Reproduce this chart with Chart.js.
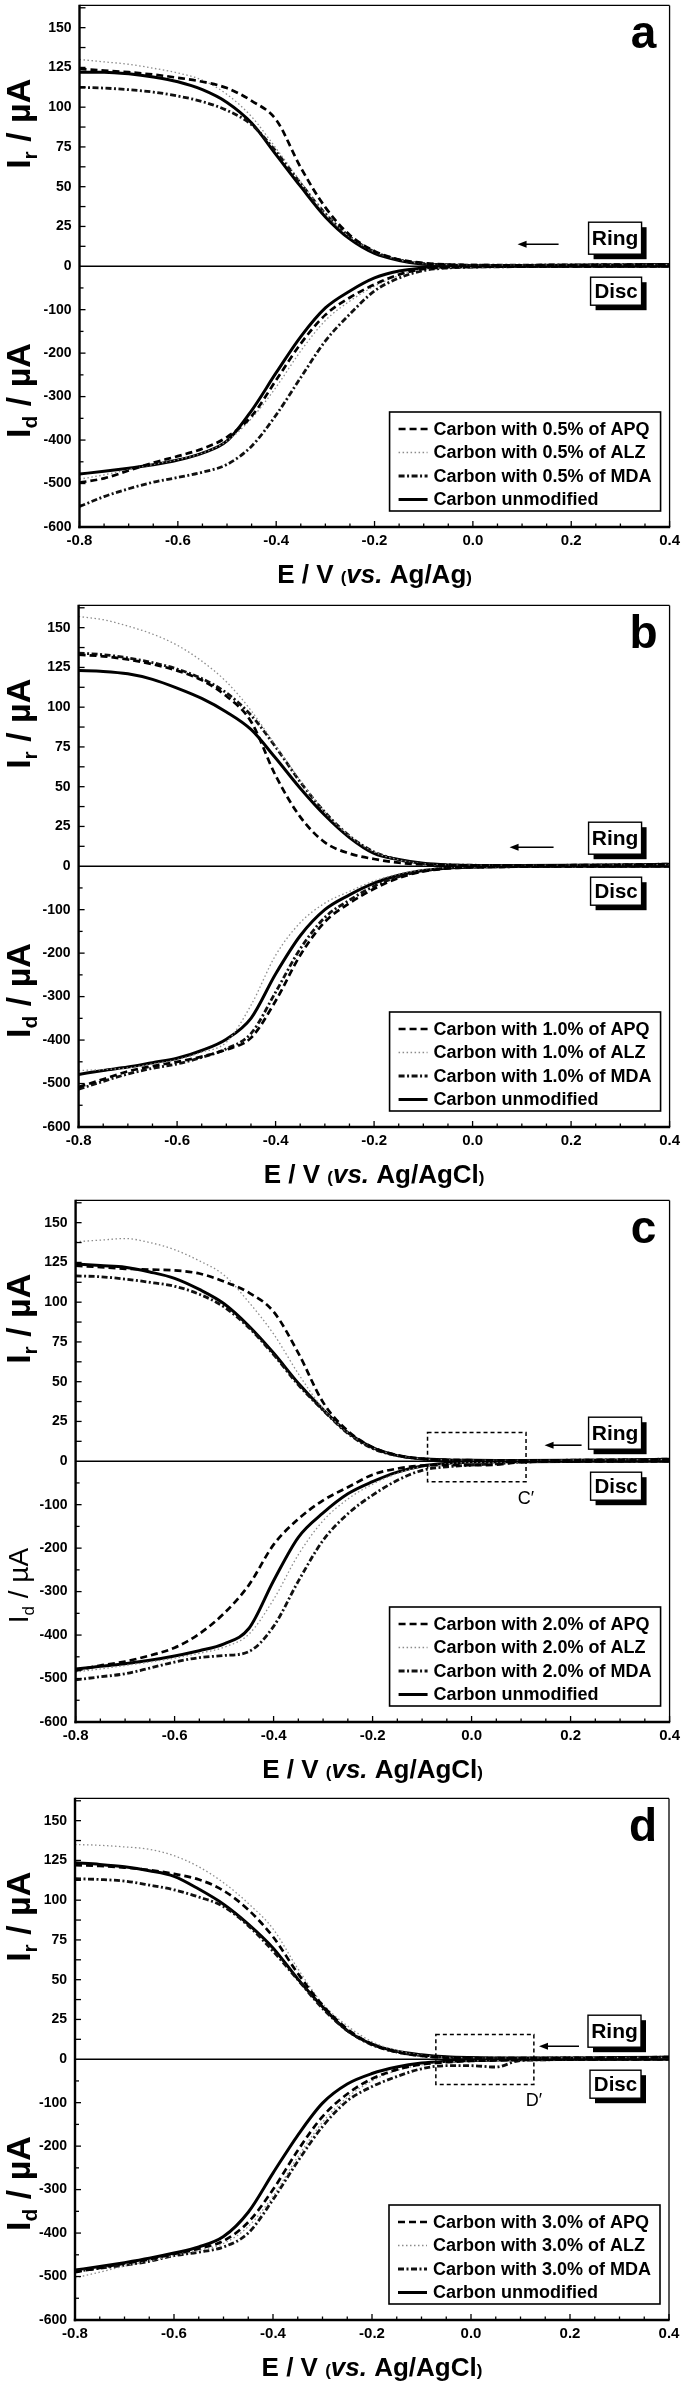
<!DOCTYPE html>
<html>
<head>
<meta charset="utf-8">
<script src="https://cdn.jsdelivr.net/npm/chart.js@4.4.1/dist/chart.umd.min.js"></script>
<style>
  html, body { margin: 0; padding: 0; background: #fff; }
  body { position: relative; width: 685px; height: 2381px; overflow: hidden; }
  .panel { position: absolute; left: 0; width: 685px; height: 600px; }
</style>
</head>
<body>
<div class="panel" id="pa"><canvas id="ca" width="685" height="600"></canvas></div>
<div class="panel" id="pb"><canvas id="cb" width="685" height="600"></canvas></div>
<div class="panel" id="pc"><canvas id="cc" width="685" height="600"></canvas></div>
<div class="panel" id="pd"><canvas id="cd" width="685" height="600"></canvas></div>
<script>
'use strict';

// ---- data ----
var potential = [-0.8, -0.75, -0.7, -0.65, -0.6, -0.55, -0.5, -0.45, -0.4, -0.35, -0.3, -0.25,
                 -0.2, -0.15, -0.1, -0.05, 0, 0.05, 0.1, 0.2, 0.3, 0.4];
var xTickLabels = ['-0.8', '-0.6', '-0.4', '-0.2', '0.0', '0.2', '0.4'];
var ringTickLabels = ['0', '25', '50', '75', '100', '125', '150'];
var discTickLabels = ['-600', '-500', '-400', '-300', '-200', '-100'];
var panelLetters = ['a', 'b', 'c', 'd'];
var loadings = ['0.5%', '1.0%', '2.0%', '3.0%'];
var references = ['Ag/Ag', 'Ag/AgCl', 'Ag/AgCl', 'Ag/AgCl'];
var modifiers = ['APQ', 'ALZ', 'MDA'];

// panel a (0.5 %)
var aRingAPQ   = [124, 123, 122, 120.5, 118.5, 116, 112, 104, 92, 62, 37, 19.5, 9.5, 4.2, 2, 1, 0.7, 0.6, 0.6, 0.7, 0.9, 1.2];
var aRingALZ   = [130, 128.5, 127, 124.5, 121.5, 117, 108, 94, 74, 53, 33, 18.5, 9, 4, 1.6, 0.9, 0.7, 0.6, 0.6, 0.7, 0.8, 1];
var aRingMDA   = [112.5, 112, 111, 109.5, 107, 103.5, 98, 89, 72, 52, 33, 18.5, 9, 4, 1.6, 0.9, 0.7, 0.6, 0.7, 0.8, 1, 1.2];
var aRingUnmod = [122, 122, 121, 119, 116, 111, 103, 90, 70, 50, 31, 17, 8, 3.6, 1.2, 0.6, 0.5, 0.5, 0.5, 0.6, 0.8, 1];
var aDiscAPQ   = [-498, -488, -470, -452, -437, -420, -393, -345, -262, -178, -112, -72, -42, -19, -6.5, -2.5, -1.5, -1, -0.8, -0.5, -0.3, 0];
var aDiscALZ   = [-490, -480, -468, -456, -445, -430, -402, -350, -278, -195, -125, -80, -46, -21, -7.5, -3, -1.8, -1.2, -0.9, -0.5, -0.3, 0];
var aDiscMDA   = [-553, -530, -512, -497, -486, -474, -456, -414, -342, -256, -172, -110, -57, -27, -10, -4, -2, -1.5, -1, -0.6, -0.3, 0];
var aDiscUnmod = [-478, -472, -465, -457, -446, -430, -402, -332, -245, -162, -96, -57, -27, -11, -4, -1.8, -1.2, -0.8, -0.6, -0.4, -0.2, 0];

// panel b (1.0 %)
var bRingAPQ   = [133, 132, 130, 127, 123, 117, 107, 91, 57, 31, 15, 8, 4.5, 2.2, 1.1, 0.7, 0.5, 0.5, 0.5, 0.6, 0.8, 1.2];
var bRingALZ   = [157, 155, 151, 146, 139, 129, 116, 98, 76, 54, 34, 19, 9, 4, 1.6, 0.8, 0.6, 0.5, 0.5, 0.6, 0.8, 1];
var bRingMDA   = [134, 133, 131, 128, 124, 118, 109, 95, 75, 53, 34, 19, 9, 4, 1.6, 0.8, 0.6, 0.5, 0.5, 0.6, 0.9, 1.3];
var bRingUnmod = [123, 122.5, 121, 117.5, 112, 105.5, 97, 86, 68, 49, 32, 18, 8, 4.2, 1.8, 0.8, 0.5, 0.5, 0.5, 0.6, 0.8, 1.2];
var bDiscAPQ   = [-508, -490, -472, -460, -450, -438, -422, -395, -310, -205, -128, -85, -52, -27, -12, -5, -2.5, -1.5, -1, -0.5, -0.2, 0];
var bDiscALZ   = [-470, -468, -464, -455, -445, -428, -405, -320, -205, -130, -85, -58, -34, -18, -8, -3, -1.8, -1.2, -0.8, -0.4, -0.2, 0];
var bDiscMDA   = [-513, -495, -478, -465, -455, -440, -420, -385, -290, -190, -118, -78, -46, -24, -11, -4, -2.2, -1.5, -1, -0.5, -0.2, 0];
var bDiscUnmod = [-479, -470, -462, -452, -442, -424, -398, -350, -248, -160, -100, -66, -39, -21, -10, -4, -2, -1.2, -0.8, -0.4, -0.2, 0];

// panel c (2.0 %)
var cRingAPQ   = [123, 122, 121, 120.5, 120, 118, 113, 106, 94, 68, 37, 19, 8.8, 3.8, 1.5, 0.8, 0.6, 0.5, 0.5, 0.6, 0.8, 1.2];
var cRingALZ   = [138, 139, 140, 137.5, 133, 126, 117, 100, 80, 55, 33, 18, 8.5, 3.8, 1.5, 0.8, 0.6, 0.5, 0.5, 0.6, 0.8, 1];
var cRingMDA   = [116.5, 116, 114.5, 112.5, 110, 105, 97, 84, 67, 48, 32, 17.5, 8, 3.5, 1.5, 0.8, 0.6, 0.5, 0.5, 0.6, 0.9, 1.3];
var cRingUnmod = [124, 123, 122, 119, 115, 108, 99, 85, 68, 49, 32.5, 18, 8.5, 3.5, 1.5, 0.8, 0.6, 0.5, 0.5, 0.6, 0.8, 1.2];
var cDiscAPQ   = [-482, -470, -461, -447, -429, -397, -350, -285, -192, -133, -90, -60, -31, -17, -10, -9, -9, -8, -2, -0.5, -0.2, 0];
var cDiscALZ   = [-485, -478, -470, -462, -453, -442, -428, -398, -318, -215, -137, -87, -53, -28, -12, -6, -3, -2, -1.2, -0.6, -0.3, 0];
var cDiscMDA   = [-503, -496, -489, -476, -462, -452, -447, -438, -380, -276, -182, -121, -78, -44, -21, -13, -9, -6, -2, -0.5, -0.2, 0];
var cDiscUnmod = [-478, -472, -466, -458, -448, -436, -420, -385, -275, -175, -119, -75, -47, -25, -11, -5, -2.5, -1.5, -1, -0.5, -0.2, 0];

// panel d (3.0 %)
var dRingAPQ   = [122, 121.5, 120.5, 119, 116.5, 113, 106, 94, 77, 54, 34, 19, 9.5, 4.5, 2, 1, 0.8, 0.7, 0.7, 0.8, 1, 1.3];
var dRingALZ   = [135, 134.5, 133.5, 132, 128, 121, 111, 98, 82, 57, 35, 21, 11, 5.5, 2.5, 1.2, 0.8, 0.7, 0.7, 0.8, 1, 1.2];
var dRingMDA   = [113.5, 113, 112, 109.5, 106.5, 102, 96, 84, 68, 50, 32, 18, 9, 4.5, 2.2, 1.2, 0.8, 0.7, 0.7, 0.8, 1, 1.3];
var dRingUnmod = [123.5, 122.5, 121, 118.5, 115, 107, 97.5, 85, 70, 50.5, 33, 18, 9.5, 5, 2.8, 1.5, 1, 0.8, 0.7, 0.8, 1, 1.2];
var dDiscAPQ   = [-490, -480, -470, -460, -448, -436, -418, -375, -300, -210, -132, -80, -45, -24, -12, -7, -4, -3, -1.5, -0.8, -0.4, 0];
var dDiscALZ   = [-503, -490, -476, -464, -452, -440, -424, -385, -315, -225, -145, -88, -50, -26, -13, -7, -4, -3, -1.5, -0.8, -0.4, 0];
var dDiscMDA   = [-488, -481, -474, -465, -452, -444, -432, -400, -323, -235, -155, -96, -63, -40, -22, -15, -15, -18, -3, -1, -0.5, 0];
var dDiscUnmod = [-485, -477, -468, -458, -446, -432, -408, -352, -262, -175, -101, -57, -33, -18, -9, -5, -3, -2, -1.2, -0.6, -0.3, 0];

// ---- layout ----
var FONT = '"Liberation Sans", Arial, Helvetica, sans-serif';
var PAD_TOP = 12, PLOT_H = 526, X_AXIS_H = 62;
var panelTops = [1, 601, 1196, 1794];
var panelLefts = [79.5, 78.6, 75.6, 75];
var panelRights = [675, 673, 670.6, 669];
// arrow: start / end offset from right edge, vertical offset from zero line
var arrows = [[111, 152, -22], [116, 160, -19], [88, 125, -16], [90, 130, -13]];
var zoomBoxes = [null, null,
  {x0: -0.089, x1: 0.110, top: 18, bottom: -47, label: 'C\u2032'},
  {x0: -0.071, x1: 0.127, top: 15.5, bottom: -58, label: 'D\u2032'}];

var seriesStyles = [
  {color: '#000', width: 2.7, dash: [7, 4]},         // APQ
  {color: '#8c8c8c', width: 1.3, dash: [1.5, 2.5]},  // ALZ
  {color: '#111', width: 2.8, dash: [6, 2.5, 2, 2.5]}, // MDA
  {color: '#000', width: 3, dash: []}                // unmodified
];

function strokeLine(ctx, x1, y1, x2, y2) {
  ctx.beginPath(); ctx.moveTo(x1, y1); ctx.lineTo(x2, y2); ctx.stroke();
}

function tagBox(ctx, x, y, w, h, text, size) {
  ctx.fillStyle = '#000';
  ctx.fillRect(x + 5, y + 5, w, h);
  ctx.fillStyle = '#fff';
  ctx.fillRect(x, y, w, h);
  ctx.lineWidth = 1.4; ctx.strokeStyle = '#000';
  ctx.strokeRect(x, y, w, h);
  ctx.fillStyle = '#000';
  ctx.font = 'bold ' + size + 'px ' + FONT;
  ctx.textAlign = 'center'; ctx.textBaseline = 'middle';
  ctx.fillText(text, x + w / 2, y + h / 2 + 1);
}

function yTitle(ctx, cx, cy, sub, weight, size) {
  ctx.save();
  ctx.translate(cx, cy);
  ctx.rotate(-Math.PI / 2);
  var parts = [['I', size, 0], [sub, Math.round(size * 0.62), size * 0.22], [' / \u00b5A', size, 0]];
  var total = 0;
  parts.forEach(function (p) { ctx.font = weight + ' ' + p[1] + 'px ' + FONT; p.w = ctx.measureText(p[0]).width; total += p.w; });
  var x = -total / 2;
  ctx.textAlign = 'left'; ctx.textBaseline = 'alphabetic'; ctx.fillStyle = '#000';
  parts.forEach(function (p) {
    ctx.font = weight + ' ' + p[1] + 'px ' + FONT;
    ctx.fillText(p[0], x, size * 0.36 + p[2]);
    x += p.w;
  });
  ctx.restore();
}

var panelDecor = {
  id: 'panelDecor',
  afterDraw: function (chart, args, o) {
    var ctx = chart.ctx, ca = chart.chartArea;
    var sx = chart.scales.x, yr = chart.scales.yr, yd = chart.scales.yd;
    var y0 = yr.getPixelForValue(0);
    ctx.save();
    ctx.strokeStyle = '#000'; ctx.fillStyle = '#000'; ctx.setLineDash([]);

    // zero line and frame
    ctx.lineWidth = 1.6;
    strokeLine(ctx, ca.left, y0, ca.right, y0);
    ctx.lineWidth = 1.3;
    strokeLine(ctx, ca.left, ca.top, ca.right, ca.top);
    strokeLine(ctx, ca.right, ca.top, ca.right, ca.bottom);
    ctx.lineWidth = 2.4;
    strokeLine(ctx, ca.left, ca.top - 0.6, ca.left, ca.bottom + 1.2);
    strokeLine(ctx, ca.left - 1.2, ca.bottom, ca.right + 0.6, ca.bottom);

    // inward ticks
    ctx.lineWidth = 1.3;
    var k, p;
    for (k = 0; k <= 24; k++) {
      p = sx.getPixelForValue(-0.8 + k * 0.05);
      strokeLine(ctx, p, ca.bottom, p, ca.bottom - (k % 4 === 0 ? 6 : 3.5));
    }
    for (k = 1; k <= 13; k++) {
      p = yr.getPixelForValue(k * 12.5);
      strokeLine(ctx, ca.left, p, ca.left + 6, p);
    }
    for (k = 1; k <= 11; k++) {
      p = yd.getPixelForValue(-k * 50);
      strokeLine(ctx, ca.left, p, ca.left + (k % 2 === 0 ? 6 : 4), p);
    }

    // Ring / Disc tags and arrow
    tagBox(ctx, ca.right - 81, y0 - 44, 53, 32, 'Ring', 21);
    tagBox(ctx, ca.right - 79, y0 + 11, 51, 28, 'Disc', 20.5);
    var ar = o.arrow;
    ctx.lineWidth = 1.6;
    strokeLine(ctx, ca.right - ar[0], y0 + ar[2], ca.right - ar[1] + 6, y0 + ar[2]);
    ctx.beginPath();
    ctx.moveTo(ca.right - ar[1], y0 + ar[2]);
    ctx.lineTo(ca.right - ar[1] + 9, y0 + ar[2] - 3.5);
    ctx.lineTo(ca.right - ar[1] + 9, y0 + ar[2] + 3.5);
    ctx.closePath(); ctx.fill();

    // dashed zoom box
    if (o.zoomBox) {
      var z = o.zoomBox;
      var x1 = sx.getPixelForValue(z.x0), x2 = sx.getPixelForValue(z.x1);
      var yt = yr.getPixelForValue(z.top), yb = yd.getPixelForValue(z.bottom);
      ctx.setLineDash([4, 3]); ctx.lineWidth = 1.5;
      ctx.strokeRect(x1, yt, x2 - x1, yb - yt);
      ctx.setLineDash([]);
      ctx.font = '18px ' + FONT; ctx.textAlign = 'center'; ctx.textBaseline = 'middle';
      ctx.fillText(z.label, x2, yb + 17);
    }

    // panel letter
    ctx.font = 'bold 46px ' + FONT; ctx.textAlign = 'center'; ctx.textBaseline = 'middle';
    ctx.fillText(o.letter, ca.right - 26, ca.top + 30);

    // legend
    var lx = ca.right - 280, ly = ca.bottom - 115, lw = 271, lh = 99;
    ctx.fillStyle = '#fff'; ctx.fillRect(lx, ly, lw, lh);
    ctx.lineWidth = 1.6; ctx.strokeStyle = '#000'; ctx.strokeRect(lx, ly, lw, lh);
    chart.data.datasets.slice(0, 4).forEach(function (ds, i) {
      var yy = ly + 17 + i * 23.5;
      ctx.strokeStyle = ds.borderColor; ctx.lineWidth = ds.borderWidth;
      ctx.setLineDash(ds.borderDash);
      strokeLine(ctx, lx + 9, yy, lx + 38, yy);
      ctx.setLineDash([]);
      ctx.fillStyle = '#000'; ctx.font = 'bold 18px ' + FONT;
      ctx.textAlign = 'left'; ctx.textBaseline = 'middle';
      ctx.fillText(ds.label, lx + 44, yy + 1);
    });

    // x axis title
    var parts = [['E / V ', 'bold 26px'], ['(', 'bold 17px'], ['vs.', 'italic bold 26px'],
                 [' ' + o.ref, 'bold 26px'], [')', 'bold 17px']];
    var total = 0;
    parts.forEach(function (q) { ctx.font = q[1] + ' ' + FONT; q.w = ctx.measureText(q[0]).width; total += q.w; });
    var xx = (ca.left + ca.right) / 2 - total / 2;
    ctx.fillStyle = '#000'; ctx.textAlign = 'left'; ctx.textBaseline = 'alphabetic';
    parts.forEach(function (q) { ctx.font = q[1] + ' ' + FONT; ctx.fillText(q[0], xx, ca.bottom + 56); xx += q.w; });

    // y axis titles
    yTitle(ctx, 17.5, (ca.top + y0) / 2 - 12, 'r', 'bold', 34);
    yTitle(ctx, 17.5, (y0 + ca.bottom) / 2 - 6, 'd', o.discWeight, o.discSize);
    ctx.restore();
  }
};

function series(values, axis, style, label) {
  return {
    label: label,
    yAxisID: axis,
    data: potential.map(function (e, i) { return {x: e, y: values[i]}; }),
    borderColor: style.color,
    borderWidth: style.width,
    borderDash: style.dash,
    pointRadius: 0,
    fill: false,
    cubicInterpolationMode: 'monotone'
  };
}

function tickFont(size) { return {family: FONT, size: size, weight: 'bold'}; }

function makePanel(idx, ring, disc) {
  var wrap = document.getElementById(['pa', 'pb', 'pc', 'pd'][idx]);
  wrap.style.top = (panelTops[idx] - PAD_TOP) + 'px';
  var canvas = wrap.querySelector('canvas');
  canvas.height = PAD_TOP + PLOT_H + X_AXIS_H;
  var labels = modifiers.map(function (m) { return 'Carbon with ' + loadings[idx] + ' of ' + m; })
    .concat(['Carbon unmodified']);
  var datasets = [];
  ring.forEach(function (v, i) { datasets.push(series(v, 'yr', seriesStyles[i], labels[i])); });
  disc.forEach(function (v, i) { datasets.push(series(v, 'yd', seriesStyles[i], labels[i])); });

  var left = panelLefts[idx];
  return new Chart(canvas.getContext('2d'), {
    type: 'line',
    data: {datasets: datasets},
    options: {
      responsive: false,
      animation: false,
      devicePixelRatio: 1,
      layout: {padding: {top: PAD_TOP, left: 0, right: 685 - panelRights[idx], bottom: 0}},
      plugins: {
        legend: {display: false},
        tooltip: {enabled: false},
        panelDecor: {
          letter: panelLetters[idx], ref: references[idx], arrow: arrows[idx], zoomBox: zoomBoxes[idx],
          discWeight: idx === 2 ? 'normal' : 'bold', discSize: idx === 2 ? 28 : 34
        }
      },
      scales: {
        x: {
          type: 'linear', min: -0.8, max: 0.4,
          grid: {display: false, drawTicks: false}, border: {display: false},
          afterBuildTicks: function (s) { s.ticks = xTickLabels.map(function (t) { return {value: parseFloat(t)}; }); },
          afterFit: function (s) { s.height = X_AXIS_H; },
          ticks: {font: tickFont(15), color: '#000', padding: 5, maxRotation: 0, autoSkip: false,
                  callback: function (v) { return v.toFixed(1); }}
        },
        yd: {
          type: 'linear', position: 'left', stack: 'current', stackWeight: 1, weight: 0,
          min: -600, max: 0,
          grid: {display: false, drawTicks: false}, border: {display: false},
          afterBuildTicks: function (s) { s.ticks = discTickLabels.map(function (t) { return {value: parseFloat(t)}; }); },
          afterFit: function (s) { s.width = left; },
          ticks: {font: tickFont(14), color: '#000', padding: 8, autoSkip: false}
        },
        yr: {
          type: 'linear', position: 'left', stack: 'current', stackWeight: 1, weight: 1,
          min: 0, max: 164,
          grid: {display: false, drawTicks: false}, border: {display: false},
          afterBuildTicks: function (s) { s.ticks = ringTickLabels.map(function (t) { return {value: parseFloat(t)}; }); },
          afterFit: function (s) { s.width = left; },
          ticks: {font: tickFont(14), color: '#000', padding: 8, autoSkip: false}
        }
      }
    },
    plugins: [panelDecor]
  });
}

makePanel(0, [aRingAPQ, aRingALZ, aRingMDA, aRingUnmod], [aDiscAPQ, aDiscALZ, aDiscMDA, aDiscUnmod]);
makePanel(1, [bRingAPQ, bRingALZ, bRingMDA, bRingUnmod], [bDiscAPQ, bDiscALZ, bDiscMDA, bDiscUnmod]);
makePanel(2, [cRingAPQ, cRingALZ, cRingMDA, cRingUnmod], [cDiscAPQ, cDiscALZ, cDiscMDA, cDiscUnmod]);
makePanel(3, [dRingAPQ, dRingALZ, dRingMDA, dRingUnmod], [dDiscAPQ, dDiscALZ, dDiscMDA, dDiscUnmod]);
</script>
</body>
</html>
